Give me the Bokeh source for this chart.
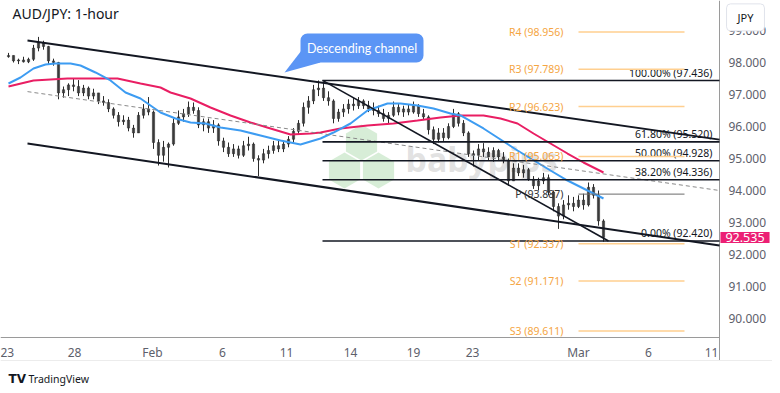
from bokeh.plotting import figure
from bokeh.models import Range1d, FixedTicker, NumeralTickFormatter, Label, ColumnDataSource
from bokeh.core.properties import value
from bokeh.embed import file_html
from bokeh.resources import INLINE

FONT = "Noto Sans"

# ---------------- data ----------------
first_open = 98.18
close = [98.22, 98.05, 98.08, 98.02, 98.10, 98.45, 98.62, 98.50, 98.05, 98.00,
         97.05, 97.15, 97.30, 97.25, 97.05, 97.20, 96.95, 97.05, 96.80, 96.75,
         96.55, 96.35, 96.15, 96.20, 95.95, 95.80, 96.35, 96.55, 96.45, 95.50,
         95.10, 95.35, 95.45, 96.10, 96.30, 96.40, 96.60, 96.50, 96.05, 96.15,
         95.95, 96.05, 95.55, 95.35, 95.15, 95.30, 95.10, 95.40, 95.45, 95.00,
         94.95, 95.15, 95.25, 95.40, 95.30, 95.45, 95.60, 95.85, 96.10, 96.60,
         96.80, 97.15, 97.20, 96.90, 96.80, 96.25, 96.45, 96.55, 96.70, 96.65,
         96.80, 96.65, 96.55, 96.50, 96.40, 96.25, 96.35, 96.60, 96.45, 96.55,
         96.45, 96.65, 96.40, 96.30, 95.90, 95.60, 95.80, 95.65, 96.00, 96.40,
         96.10, 95.80, 95.15, 95.10, 95.30, 95.20, 95.05, 95.25, 95.05, 94.95,
         94.30, 94.70, 94.55, 94.65, 94.35, 94.15, 94.30, 94.40, 93.95, 93.50,
         93.20, 93.55, 93.60, 93.50, 93.70, 93.55, 94.10, 93.85, 93.05, 92.535]
high = [98.30, 98.22, 98.12, 98.18, 98.15, 98.55, 98.80, 98.68, 98.52, 98.12,
        98.02, 97.25, 97.35, 97.50, 97.45, 97.30, 97.25, 97.18, 97.05, 96.95,
        96.85, 96.60, 96.45, 96.35, 96.30, 96.05, 96.45, 96.70, 96.92, 96.50,
        95.60, 95.55, 95.50, 96.25, 96.50, 96.55, 96.78, 96.75, 96.60, 96.25,
        96.25, 96.20, 96.10, 95.65, 95.50, 95.45, 95.40, 95.55, 95.68, 95.50,
        95.10, 95.30, 95.40, 95.55, 95.60, 95.55, 95.70, 95.95, 96.20, 96.75,
        96.95, 97.30, 97.44, 97.38, 97.10, 96.85, 96.55, 96.70, 96.85, 96.90,
        96.92, 96.85, 96.80, 96.75, 96.65, 96.55, 96.45, 96.78, 96.70, 96.65,
        96.70, 96.78, 96.70, 96.55, 96.35, 96.00, 95.95, 95.95, 96.10, 96.55,
        96.45, 96.20, 95.85, 95.25, 95.45, 95.48, 95.35, 95.35, 95.30, 95.20,
        95.00, 94.85, 94.85, 94.80, 94.70, 94.45, 94.40, 94.55, 94.50, 94.00,
        93.60, 93.70, 93.85, 93.80, 93.85, 93.90, 94.25, 94.20, 94.00, 93.10]
low = [98.15, 98.00, 97.95, 98.00, 97.98, 98.05, 98.35, 98.40, 97.95, 97.90,
       96.85, 96.90, 96.95, 97.10, 96.95, 96.95, 96.85, 96.85, 96.70, 96.65,
       96.45, 96.25, 96.00, 96.05, 95.85, 95.65, 95.85, 96.25, 96.35, 95.30,
       94.78, 94.90, 94.72, 95.40, 96.05, 96.15, 96.30, 96.40, 95.95, 95.85,
       95.80, 95.80, 95.40, 95.20, 95.05, 95.05, 95.00, 95.05, 95.25, 94.90,
       94.45, 94.85, 95.00, 95.15, 95.20, 95.20, 95.35, 95.50, 95.75, 96.00,
       96.40, 96.70, 96.95, 96.80, 96.65, 96.10, 96.15, 96.30, 96.40, 96.50,
       96.55, 96.55, 96.45, 96.35, 96.30, 96.15, 96.10, 96.30, 96.35, 96.30,
       96.35, 96.40, 96.30, 96.20, 95.75, 95.45, 95.50, 95.55, 95.60, 95.95,
       96.00, 95.70, 95.05, 94.75, 94.95, 95.05, 94.95, 94.90, 94.95, 94.85,
       94.15, 94.35, 94.45, 94.40, 94.30, 94.05, 94.00, 94.20, 93.85, 93.35,
       92.80, 93.10, 93.40, 93.35, 93.45, 93.40, 93.50, 93.75, 92.90, 92.40]

ma_fast_x = [0, 2.4, 5, 7.4, 9.4, 12.4, 14.4, 17.4, 20.4, 23.4, 26.4, 28.4, 30.4,
             33.4, 36.4, 39.4, 42.4, 46.4, 50.4, 54.4, 58.4, 62.4, 65, 68.4, 71.8,
             75.8, 78.4, 81.8, 85, 88.4, 90.4, 95, 98.4, 101.8, 108.4, 111.8, 115, 119]
ma_fast = [97.344, 97.531, 97.812, 97.938, 97.969, 97.969, 97.906, 97.688, 97.438,
           97.062, 96.875, 96.656, 96.438, 96.25, 96.125, 96.094, 95.969, 95.875,
           95.719, 95.562, 95.438, 95.625, 95.812, 96.094, 96.5, 96.719, 96.719,
           96.656, 96.562, 96.406, 96.344, 95.938, 95.594, 95.25, 94.625, 94.312,
           94.062, 93.75]
ma_slow_x = [0, 5, 11.8, 18.4, 21.8, 26.4, 30.4, 32.4, 36.4, 40.4, 44.4, 48.4, 52.4,
             56.4, 60.4, 62.4, 66.4, 71.8, 77, 81.8, 86.4, 90.4, 95, 98.4, 101.8,
             105, 108.4, 111.8, 115, 119]
ma_slow = [97.25, 97.438, 97.5, 97.5, 97.5, 97.344, 97.219, 97.062, 96.875, 96.594,
           96.344, 96.125, 95.938, 95.75, 95.781, 95.812, 95.938, 96.031, 96.094,
           96.188, 96.281, 96.344, 96.344, 96.25, 96.094, 95.781, 95.469, 95.156,
           94.875, 94.562]

date_ticks = [-1.0, 13.2, 28.8, 42.8, 55.6, 68.4, 81.0, 92.8, 114.0, 128.0, 140.6]
date_labels = ["23", "28", "Feb", "6", "11", "14", "19", "23", "Mar", "6", "11"]
price_ticks = [90, 91, 92, 93, 94, 95, 96, 97, 98, 99]

upper_x, upper_y = [3.8, 142.2], [98.69, 95.59]
lower_x, lower_y = [3.8, 142.2], [95.47, 92.28]
mid_x, mid_y = [3.8, 142.2], [97.09, 94.00]
steep_x, steep_y = [62.8, 120.0], [97.44, 92.42]

fib_names = ["100.00%", "61.80%", "50.00%", "38.20%", "0.00%"]
fib_levels = [97.436, 95.520, 94.928, 94.336, 92.420]
pivot_names = ["R4", "R3", "R2", "R1", "S1", "S2", "S3"]
pivot_levels = [98.956, 97.789, 96.623, 95.063, 92.337, 91.171, 89.611]
pivot_p = 93.887
last_price = 92.535

# plotting area geometry (data units: 1 bar = 5 px, 1 JPY = 32 px)
X0, X1 = -1.6, 152.8
Y0, Y1 = 87.75, 99.9375
AXIS_X = 142.2        # price-scale separator
AXIS_Y = 89.40625     # time-scale separator
BOTTOM_Y = 88.6875    # lower edge of time scale

p = figure(width=772, height=390, x_range=Range1d(X0, X1), y_range=Range1d(Y0, Y1),
           output_backend="svg", toolbar_location=None, y_axis_location="right",
           min_border_left=0, min_border_top=0, min_border_right=0, min_border_bottom=0)
p.xgrid.visible = False
p.ygrid.visible = False
p.outline_line_color = None

ya = p.yaxis[0]
ya.fixed_location = AXIS_X
ya.ticker = FixedTicker(ticks=price_ticks)
ya.formatter = NumeralTickFormatter(format="0.000")
ya.major_tick_out = 0
ya.major_tick_in = 0
ya.minor_tick_out = 0
ya.minor_tick_in = 0
ya.axis_line_color = None
ya.major_label_standoff = 9
ya.major_label_text_font = FONT
ya.major_label_text_font_size = "12px"
ya.major_label_text_color = "#5d606b"

xa = p.xaxis[0]
xa.fixed_location = AXIS_Y
xa.ticker = FixedTicker(ticks=date_ticks)
xa.major_label_overrides = {t: l for t, l in zip(date_ticks, date_labels)}
xa.major_tick_out = 0
xa.major_tick_in = 0
xa.minor_tick_out = 0
xa.minor_tick_in = 0
xa.axis_line_color = None
xa.major_label_standoff = 6
xa.major_label_text_font = FONT
xa.major_label_text_font_size = "12px"
xa.major_label_text_color = "#5d606b"

# scale separators / widget border
p.segment(x0=[X0], y0=[AXIS_Y], x1=[AXIS_X], y1=[AXIS_Y], line_color="#9a9a9a", line_width=1)
p.segment(x0=[AXIS_X], y0=[BOTTOM_Y], x1=[AXIS_X], y1=[Y1], line_color="#9a9a9a", line_width=1)
p.segment(x0=[X0], y0=[BOTTOM_Y], x1=[X1], y1=[BOTTOM_Y], line_color="#ececec", line_width=1)

# watermark
p.scatter([67.2, 74.0, 70.6], [94.625, 94.625, 95.5], marker="hex", size=36, angle=1.5708,
          fill_color="#c6e6c6", fill_alpha=0.7, line_color=None)
p.text([79.4], [95.0], text=["babypips"], text_font=value(FONT), text_font_size="34px",
       text_font_style="bold", text_color="#bdbdbd", text_alpha=0.45, text_baseline="alphabetic")

# candles
opens = [first_open] + close[:-1]
bar_x = list(range(len(close)))
tops = [max(o, c) for o, c in zip(opens, close)]
bots = [min(o, c) for o, c in zip(opens, close)]
src = ColumnDataSource(dict(x=bar_x, h=high, l=low, t=tops, b=bots))
p.segment(x0="x", y0="l", x1="x", y1="h", source=src, line_color="#2b2b2b", line_width=1)
p.vbar(x="x", width=0.45, top="t", bottom="b", source=src, fill_color="#3a3a3a",
       line_color="#2b2b2b", line_width=0.5)

# moving averages
p.line(ma_slow_x, ma_slow, line_color="#e91e63", line_width=2)
p.line(ma_fast_x, ma_fast, line_color="#3d9cf2", line_width=2)

# channel
p.line(upper_x, upper_y, line_color="#131722", line_width=2)
p.line(lower_x, lower_y, line_color="#131722", line_width=2)
p.line(mid_x, mid_y, line_color="#8a8a8a", line_width=1, line_dash="4 3")
p.line(steep_x, steep_y, line_color="#131722", line_width=1.6)

# fibonacci
p.segment(x0=[62.8] * len(fib_levels), y0=fib_levels, x1=[AXIS_X] * len(fib_levels),
          y1=fib_levels, line_color="#131722", line_width=1.6)
p.text([140.8] * len(fib_levels), fib_levels,
       text=[f"{n} ({v:.3f})" for n, v in zip(fib_names, fib_levels)],
       text_font=value(FONT), text_font_size="10.5px", text_color="#131722",
       text_align="right", text_baseline="bottom", y_offset=-1)

# pivots
p.segment(x0=[114.0] * len(pivot_levels), y0=pivot_levels, x1=[135.2] * len(pivot_levels),
          y1=pivot_levels, line_color="#ffcf8f", line_width=1.5)
p.text([111.0] * len(pivot_levels), pivot_levels,
       text=[f"{n} ({v:.3f})" for n, v in zip(pivot_names, pivot_levels)],
       text_font=value(FONT), text_font_size="10.5px", text_color="#f5a542",
       text_align="right", text_baseline="middle")
p.segment(x0=[114.0], y0=[pivot_p], x1=[135.2], y1=[pivot_p], line_color="#6a6a6a", line_width=1)
p.text([111.0], [pivot_p], text=[f"P ({pivot_p:.3f})"], text_font=value(FONT),
       text_font_size="10.5px", text_color="#333333", text_align="right", text_baseline="middle")

# callout
p.patch([58.6, 62.4, 55.2], [98.375, 98.0, 97.6875], fill_color="#5b95f5", line_color=None)
p.quad(left=[58.4], right=[83.0], top=[98.906], bottom=[98.0], fill_color="#5b95f5",
       line_color=None, border_radius=7)
p.text([70.7], [98.453], text=["Descending channel"], text_font=value("Lato"),
       text_font_size="12.5px", text_color="white", text_align="center", text_baseline="middle")

# title & misc labels
p.add_layout(Label(x=0.8, y=99.53, text="AUD/JPY: 1-hour",
                   text_font=FONT, text_font_size="14px", text_color="#131722",
                   text_baseline="middle"))
p.add_layout(Label(x=147.4, y=99.41, text="JPY",
                   text_font=FONT, text_font_size="11px", text_color="#131722",
                   text_align="center", text_baseline="middle",
                   background_fill_color="white", border_line_color="#e0e3eb",
                   padding=(11, 6), border_radius=4))
p.add_layout(Label(x=147.3, y=last_price, text=f"{last_price:.3f}",
                   text_font=FONT, text_font_size="12.5px", text_color="white",
                   text_align="center", text_baseline="middle",
                   background_fill_color="#ec1f74", padding=(5, 1)))
p.add_layout(Label(x=0.0, y=88.125, text="TV",
                   text_font="DejaVu Sans", text_font_size="12px", text_font_style="bold",
                   text_color="#131722", text_baseline="middle"))
p.add_layout(Label(x=4.0, y=88.125, text="TradingView",
                   text_font=FONT, text_font_size="10.5px", text_color="#131722",
                   text_baseline="middle"))

open("out.html", "w").write(file_html(p, INLINE))
